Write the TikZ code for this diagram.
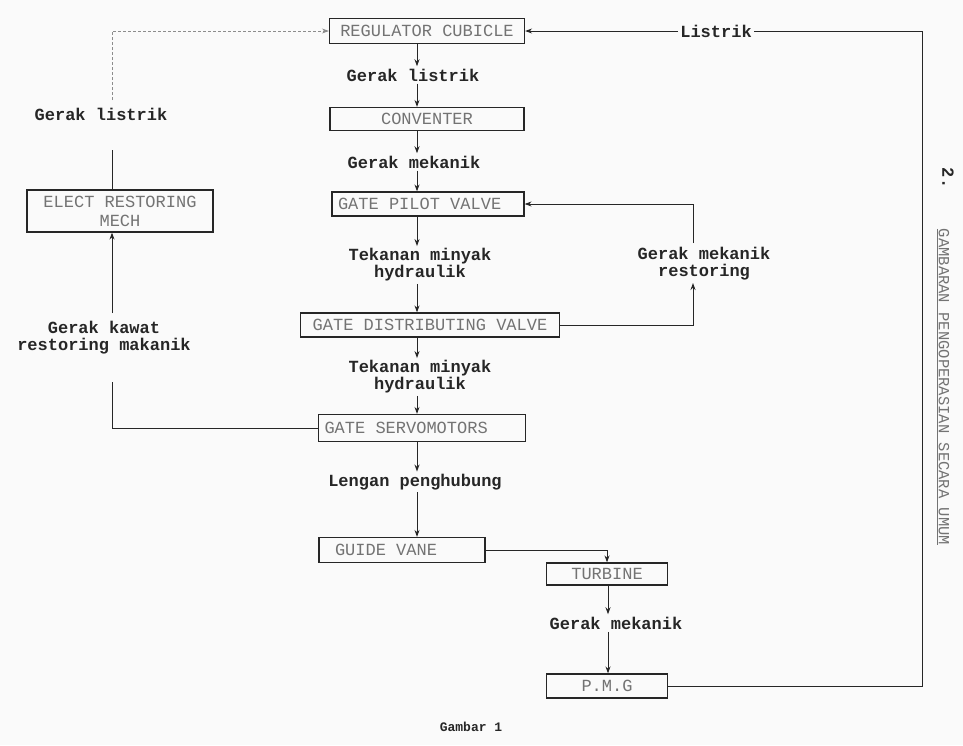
\documentclass[tikz,border=0pt]{standalone}
\usepackage{fontspec}
\setmonofont{Liberation Mono}
\usetikzlibrary{arrows,arrows.meta}

\begin{document}
\begin{tikzpicture}[>={Stealth[length=7pt,width=5pt]}, x=1pt, y=-1pt]
	\tikzstyle{block} = [draw=black!85, line width=1.2pt, rectangle, inner sep=0pt, font=\fontsize{17}{18}\ttfamily, text=black!55]
	\tikzstyle{txt} = [font=\fontsize{17}{17}\ttfamily\bfseries, text=black!85, align=center, inner sep=2pt]
	\tikzstyle{garis} = [line width=1pt, color=black!85]

	\useasboundingbox (0,0) rectangle (963,745);
	\fill[black!2] (0,0) rectangle (963,745);

	% kolom tengah
	\coordinate (kol) at (417,0);
	\coordinate (kolb) at (608,0);
	\path[->, garis]
	node[block, minimum width=195pt, minimum height=25pt] (reg) at (427,31) {REGULATOR CUBICLE}
	node[txt] (gl1) at (413,75) {Gerak listrik}
	node[block, minimum width=194pt, minimum height=23pt] (conv) at (427,119) {CONVENTER}
	node[txt] (gm1) at (414,162) {Gerak mekanik}
	node[block, text width=180pt, inner xsep=6pt, align=flush left, minimum height=24pt] (gpv) at (428,204) {GATE PILOT VALVE}
	node[txt] (tm1) at (420,265) {Tekanan minyak\\hydraulik}
	node[block, minimum width=259pt, minimum height=24pt] (gdv) at (430,325) {GATE DISTRIBUTING VALVE}
	node[txt] (tm2) at (420,377) {Tekanan minyak\\hydraulik}
	node[block, text width=195pt, inner xsep=6pt, align=flush left, minimum height=27pt] (gsm) at (422,428) {GATE SERVOMOTORS}
	node[txt] (lp) at (415,482) {Lengan penghubung}
	node[block, text width=154pt, inner xsep=6pt, align=flush left, minimum height=25pt] (gv) at (402,550) {\hspace*{10pt}GUIDE VANE}
	node[block, minimum width=121pt, minimum height=22pt] (turb) at (607,574) {TURBINE}
	node[txt] (gm2) at (616,623) {Gerak mekanik}
	node[block, minimum width=121pt, minimum height=24pt] (pmg) at (607,686) {P.M.G}
	(kol |- reg.south) edge (kol |- gl1.north)
	(kol |- gl1.south) edge (kol |- conv.north)
	(kol |- conv.south) edge (kol |- gm1.north)
	(kol |- gm1.south) edge (kol |- gpv.north)
	(kol |- gpv.south) edge (kol |- tm1.north)
	(kol |- tm1.south) edge (kol |- gdv.north)
	(kol |- gdv.south) edge (kol |- tm2.north)
	(kol |- tm2.south) edge (kol |- gsm.north)
	(kol |- gsm.south) edge (kol |- lp.north)
	(kol |- lp.south) edge (kol |- gv.north)
	(kolb |- turb.south) edge (kolb |- gm2.north)
	(kolb |- gm2.south) edge (kolb |- pmg.north)
	;

	% umpan balik
	\node[block, minimum width=186pt, minimum height=42pt, align=center, font=\fontsize{17}{19}\ttfamily] (elect) at (120,211) {ELECT RESTORING\\MECH};
	\node[txt] (gl2) at (101,114) {Gerak listrik};
	\node[txt] (gk) at (104,338) {Gerak kawat\\restoring makanik};
	\node[txt] (gmr) at (704,264) {Gerak mekanik\\restoring};
	\node[txt] (lsk) at (716,31) {Listrik};
	\node[txt, font=\fontsize{13}{13}\ttfamily\bfseries] (gbr) at (471,727) {Gambar 1};
	\node[rotate=-90, font=\fontsize{15.5}{16}\ttfamily, text=black!55] (judul) at (943,387) {\underline{GAMBARAN PENGOPERASIAN SECARA UMUM}};
	\node[rotate=-90, font=\fontsize{17}{17}\ttfamily\bfseries, text=black!85] (nomor) at (948,178) {2.};

	\coordinate (kk1) at (112,382);
	\coordinate (kk2) at (112,313);
	\coordinate (ka1) at (112,150);
	\coordinate (ka2) at (112,100);
	\coordinate (ka3) at (112,31);
	\coordinate (mr1) at (693,283);
	\coordinate (mr2) at (693,243);
	\coordinate (rt) at (922,31);

	\draw[garis] (gsm.west) -| (kk1);
	\draw[garis, ->] (kk2) -- (kk2 |- elect.south);
	\draw[garis] (ka1 |- elect.north) -- (ka1);
	\draw[->, black!45, densely dashed, line width=0.7pt] (ka2) -- (ka3) -- (reg.west);
	\draw[garis, ->] (gdv.east) -| (mr1);
	\draw[garis, ->] (mr2) |- (gpv.east);
	\draw[garis] (pmg.east) -| (rt) -- (lsk.east);
	\draw[garis, ->] (lsk.west) -- (reg.east);
	\draw[garis, ->] (gv.east) -| (turb.north);
\end{tikzpicture}
\end{document}
